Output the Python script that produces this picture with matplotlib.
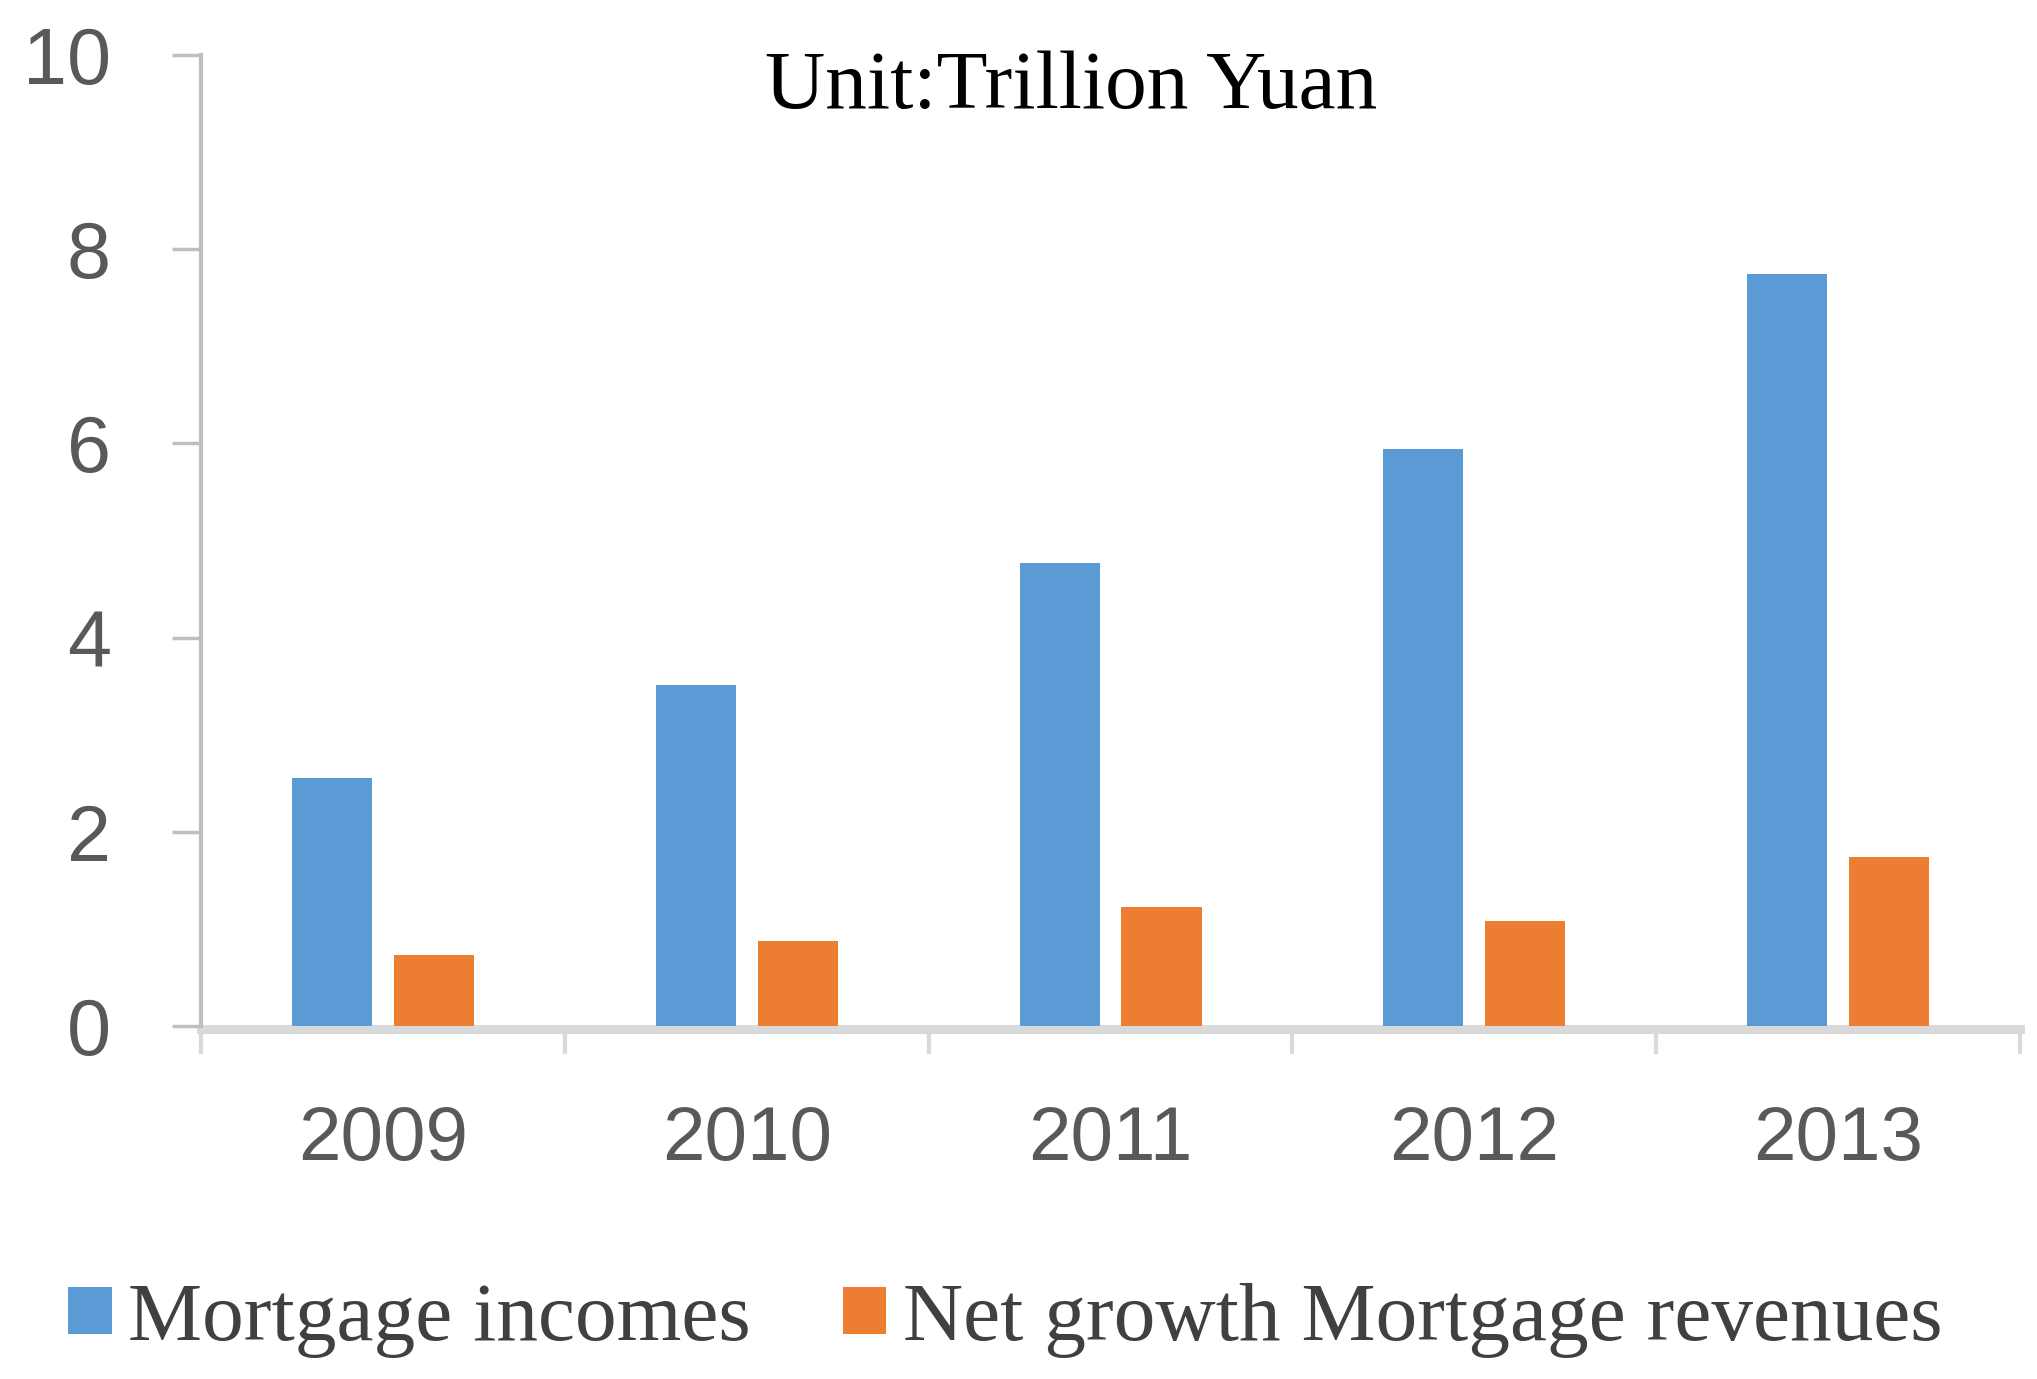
import matplotlib
matplotlib.use("Agg")
import numpy as np
import matplotlib.pyplot as plt

# chart data
years = ["2009", "2010", "2011", "2012", "2013"]
mortgage_incomes = [2.55, 3.51, 4.77, 5.94, 7.75]
net_growth = [0.73, 0.88, 1.23, 1.08, 1.74]
y_ticks = [0, 2, 4, 6, 8, 10]

BLUE = "#5B9BD5"
ORANGE = "#ED7D31"

fig = plt.figure(figsize=(20.37, 13.79), dpi=100)
ax = fig.add_axes([0.0987, 0.256, 0.893, 0.704])

x = np.arange(len(years))
w = 0.22
ax.bar(x - 0.14, mortgage_incomes, w, color=BLUE, label="Mortgage incomes", zorder=3)
ax.bar(x + 0.14, net_growth, w, color=ORANGE, label="Net growth Mortgage revenues", zorder=3)

ax.set_xlim(-0.5, len(years) - 0.5)
ax.set_ylim(0, 10)

for s in ["top", "right"]:
    ax.spines[s].set_visible(False)
ax.spines["left"].set_color("#bfbfbf")
ax.spines["left"].set_linewidth(3)
ax.spines["bottom"].set_color("#d9d9d9")
ax.spines["bottom"].set_linewidth(6.5)
ax.spines["bottom"].set_position(("outward", 2))
ax.spines["bottom"].set_zorder(1)

ax.set_yticks(y_ticks)
ax.set_yticklabels([str(v) for v in y_ticks])
ax.tick_params(axis="y", length=21, width=2.5, color="#bfbfbf", pad=44,
               labelsize=57, labelcolor="#595959")
for lab in ax.get_yticklabels():
    lab.set_fontfamily("Liberation Sans")

ax.set_xticks(x)
ax.set_xticklabels(years)
ax.set_xticks(np.arange(-0.5, len(years)), minor=True)
ax.tick_params(axis="x", which="major", length=0, pad=55,
               labelsize=55, labelcolor="#595959")
ax.tick_params(axis="x", which="minor", length=18, width=3, color="#d9d9d9")
for lab in ax.get_xticklabels():
    lab.set_fontfamily("Liberation Sans")

fig.text(0.526, 0.9215, "Unit:Trillion Yuan", ha="center", va="baseline",
         fontsize=60, family="Liberation Serif", color="black")

leg = fig.legend(loc="lower left", bbox_to_anchor=(0.0335, 0.015), ncol=2,
                 frameon=False, borderpad=0, borderaxespad=0,
                 handlelength=0.52, handleheight=0.48, handletextpad=0.2,
                 columnspacing=1.1,
                 prop={"family": "Liberation Serif", "size": 60})
for t in leg.get_texts():
    t.set_color("#404040")

fig.savefig("out.png", dpi=100)
